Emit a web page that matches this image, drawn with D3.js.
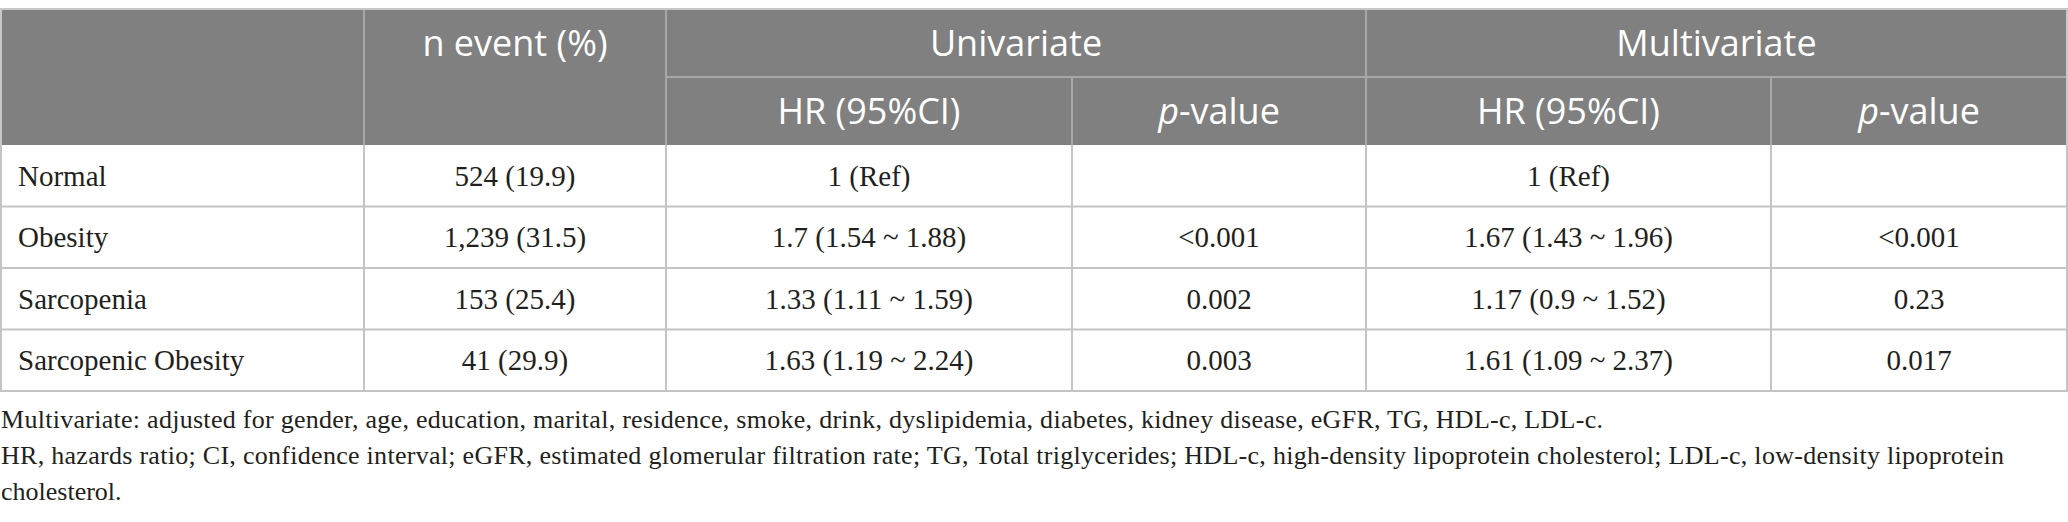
<!DOCTYPE html>
<html>
<head>
<meta charset="utf-8">
<script src="https://cdn.jsdelivr.net/npm/d3@7"></script>
<style>
  html, body { margin: 0; padding: 0; background: #fff; }
  svg { display: block; }
</style>
</head>
<body>
<div id="chart"></div>
<script>
// Table data
const groups = ['Normal', 'Obesity', 'Sarcopenia', 'Sarcopenic Obesity'];
const nEvent = ['524 (19.9)', '1,239 (31.5)', '153 (25.4)', '41 (29.9)'];
const uniHR = ['1 (Ref)', '1.7 (1.54 ~ 1.88)', '1.33 (1.11 ~ 1.59)', '1.63 (1.19 ~ 2.24)'];
const uniP = ['', '<0.001', '0.002', '0.003'];
const multiHR = ['1 (Ref)', '1.67 (1.43 ~ 1.96)', '1.17 (0.9 ~ 1.52)', '1.61 (1.09 ~ 2.37)'];
const multiP = ['', '<0.001', '0.23', '0.017'];

const topHeaders = ['', 'n event (%)', 'Univariate', 'Multivariate'];
const subHeaders = ['HR (95%CI)', 'p-value', 'HR (95%CI)', 'p-value'];

const footnotes = [
  'Multivariate: adjusted for gender, age, education, marital, residence, smoke, drink, dyslipidemia, diabetes, kidney disease, eGFR, TG, HDL-c, LDL-c.',
  'HR, hazards ratio; CI, confidence interval; eGFR, estimated glomerular filtration rate; TG, Total triglycerides; HDL-c, high-density lipoprotein cholesterol; LDL-c, low-density lipoprotein',
  'cholesterol.'
];

// Layout
const width = 2068, height = 522;
const colEdges = [1, 364, 666, 1072, 1366, 1771, 2067];
const tableTop = 9, subLineY = 77, headBottom = 145, tableBottom = 391;
const footLen = [1602, 2003, null]; // measured line widths in the reference
const headerBg = '#808080';
const bodyLine = '#c4c4c4';
const headLine = '#a8a8a8';
const sansFont = "'Open Sans', 'Noto Sans', sans-serif";
const serifFont = "'Liberation Serif', 'Times New Roman', serif";

const svg = d3.select('#chart')
  .append('svg')
  .attr('width', width)
  .attr('height', height);

// Row scale
const y = d3.scaleBand()
  .domain(groups)
  .range([headBottom, tableBottom]);

const cx = i => (colEdges[i] + colEdges[i + 1]) / 2;

// Header background
svg.append('rect')
  .attr('x', colEdges[0])
  .attr('y', tableTop)
  .attr('width', colEdges[6] - colEdges[0])
  .attr('height', headBottom - tableTop)
  .attr('fill', headerBg);

// Header lines
const hl = svg.append('g').attr('stroke', headLine).attr('stroke-width', 2);
hl.append('line').attr('x1', colEdges[2]).attr('x2', colEdges[6]).attr('y1', subLineY).attr('y2', subLineY);
[1, 2, 4].forEach(i => {
  hl.append('line').attr('x1', colEdges[i]).attr('x2', colEdges[i]).attr('y1', tableTop).attr('y2', headBottom);
});
[3, 5].forEach(i => {
  hl.append('line').attr('x1', colEdges[i]).attr('x2', colEdges[i]).attr('y1', subLineY).attr('y2', headBottom);
});

// Header text
const headText = svg.append('g')
  .attr('fill', '#fff')
  .attr('font-family', sansFont)
  .attr('font-size', 36)
  .attr('text-anchor', 'middle');

const topX = [cx(0), cx(1), (colEdges[2] + colEdges[4]) / 2, (colEdges[4] + colEdges[6]) / 2];
headText.selectAll('text.top')
  .data(topHeaders)
  .enter()
  .append('text')
  .attr('class', 'top')
  .attr('x', (d, i) => topX[i])
  .attr('y', (tableTop + subLineY) / 2)
  .attr('dy', '0.36em')
  .text(d => d);

headText.selectAll('text.sub')
  .data(subHeaders)
  .enter()
  .append('text')
  .attr('class', 'sub')
  .attr('x', (d, i) => cx(i + 2))
  .attr('y', (subLineY + headBottom) / 2)
  .attr('dy', '0.36em')
  .each(function(d) {
    const t = d3.select(this);
    if (d.startsWith('p-')) {
      t.append('tspan').attr('font-style', 'italic').text('p');
      t.append('tspan').text(d.slice(1));
    } else {
      t.text(d);
    }
  });

// Body lines
const bl = svg.append('g').attr('stroke', bodyLine).attr('stroke-width', 2);
bl.append('line').attr('x1', colEdges[0] - 1).attr('x2', colEdges[6] + 1).attr('y1', tableTop).attr('y2', tableTop).attr('stroke', '#c8c8c8');
bl.selectAll('line.row')
  .data(groups.slice(1))
  .enter()
  .append('line')
  .attr('class', 'row')
  .attr('x1', colEdges[0])
  .attr('x2', colEdges[6])
  .attr('y1', d => y(d))
  .attr('y2', d => y(d));
bl.append('line').attr('x1', colEdges[0] - 1).attr('x2', colEdges[6] + 1).attr('y1', tableBottom).attr('y2', tableBottom);
colEdges.forEach(e => {
  bl.append('line').attr('x1', e).attr('x2', e).attr('y1', headBottom).attr('y2', tableBottom);
});
[0, 6].forEach(i => {
  bl.append('line').attr('x1', colEdges[i]).attr('x2', colEdges[i]).attr('y1', tableTop).attr('y2', headBottom).attr('stroke', '#c8c8c8');
});

// Body text
const columns = [groups, nEvent, uniHR, uniP, multiHR, multiP];
const body = svg.append('g')
  .attr('fill', '#231f20')
  .attr('font-family', serifFont)
  .attr('font-size', 29);

columns.forEach((col, ci) => {
  body.selectAll(`text.c${ci}`)
    .data(col)
    .enter()
    .append('text')
    .attr('class', `c${ci}`)
    .attr('x', ci === 0 ? colEdges[0] + 17 : cx(ci))
    .attr('y', (d, i) => y(groups[i]) + y.bandwidth() / 2)
    .attr('dy', '0.34em')
    .attr('text-anchor', ci === 0 ? 'start' : 'middle')
    .text(d => d);
});

// Footnotes
svg.append('g')
  .attr('fill', '#231f20')
  .attr('font-family', serifFont)
  .attr('font-size', 26)
  .selectAll('text')
  .data(footnotes)
  .enter()
  .append('text')
  .attr('x', 1)
  .attr('y', (d, i) => 428 + i * 36)
  .each(function(d, i) {
    if (footLen[i]) {
      d3.select(this).attr('textLength', footLen[i]).attr('lengthAdjust', 'spacing');
    }
  })
  .text(d => d);
</script>
</body>
</html>
